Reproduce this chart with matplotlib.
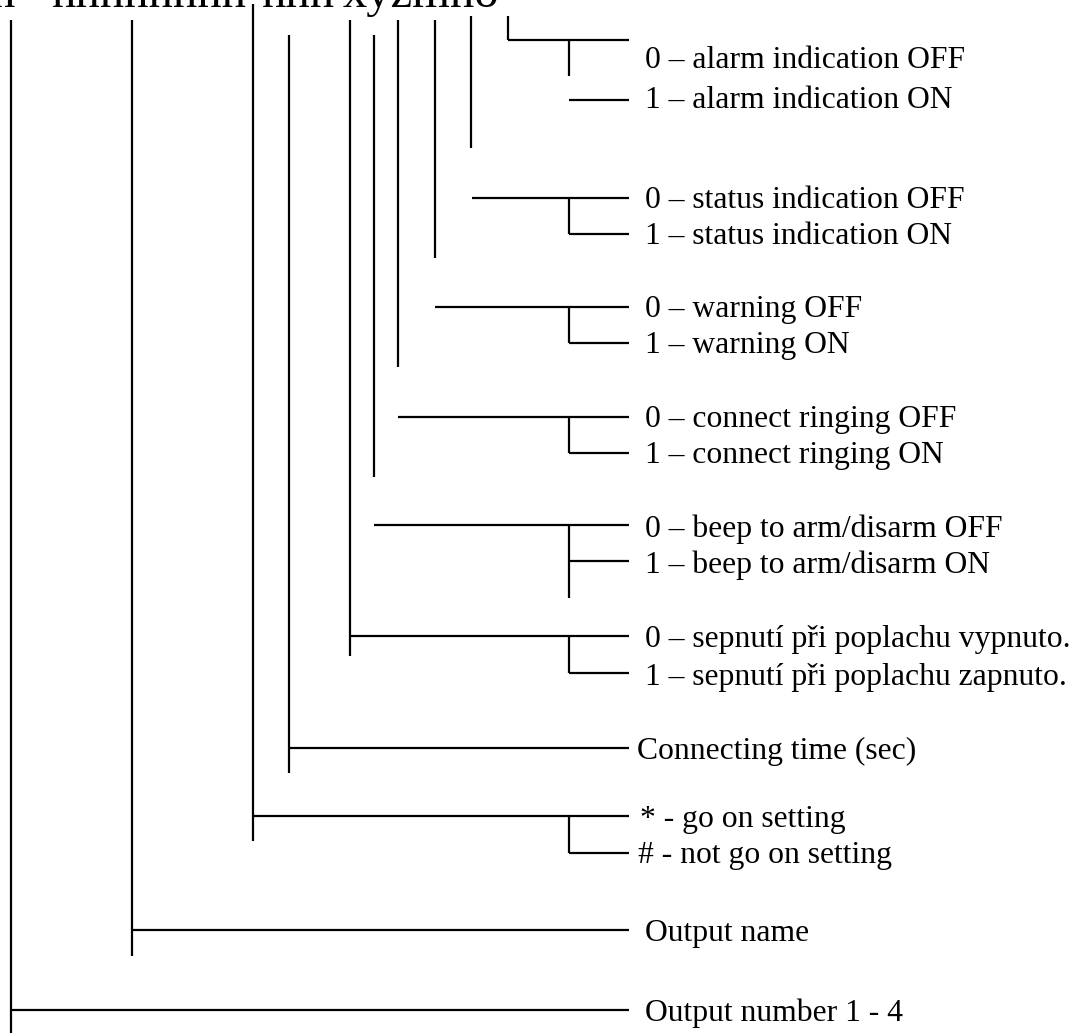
import matplotlib
matplotlib.use("Agg")
import matplotlib.pyplot as plt

# ---- diagram data (pixel coordinates of the reference, y downward) ----
header_words = ["n", "nnnnnnnn", "nnn", "xyzmno"]
header_x = [-9, 52, 262, 343]
header_baseline = 7

stem_x = [11, 132, 253, 289, 350, 374, 398, 435, 471, 508]
stem_top = [20, 20, 4, 35, 20, 35, 20, 20, 16, 16]
stem_bottom = [1033, 956, 841, 773, 656, 477, 367, 258, 148, 40]

hline_y = [40, 100, 198, 234, 307, 343, 417, 453, 525, 561, 636, 673, 748, 816, 853, 930, 1010]
hline_x0 = [508, 569, 472, 569, 435, 569, 398, 569, 374, 569, 350, 569, 289, 253, 569, 132, 11]
hline_x1 = 629

branch_x = 569
branch_top = [40, 198, 307, 417, 525, 636, 816]
branch_bottom = [76, 234, 343, 453, 598, 673, 853]

labels = [
    "0 – alarm indication OFF",
    "1 – alarm indication ON",
    "0 – status indication OFF",
    "1 – status indication ON",
    "0 – warning OFF",
    "1 – warning ON",
    "0 – connect ringing OFF",
    "1 – connect ringing ON",
    "0 – beep to arm/disarm OFF",
    "1 – beep to arm/disarm ON",
    "0 – sepnutí při poplachu vypnuto.",
    "1 – sepnutí při poplachu zapnuto.",
    "Connecting time (sec)",
    "* - go on setting",
    "# - not go on setting",
    "Output name",
    "Output number 1 - 4",
]
label_y = [57, 98, 197, 234, 307, 343, 417, 453, 527, 563, 637, 675, 748, 816, 853, 930, 1010]
label_x = [645, 645, 645, 645, 645, 645, 645, 645, 645, 645, 645, 645, 637, 640, 638, 645, 645]

W, H = 1079, 1033
fig = plt.figure(figsize=(W / 100, H / 100), dpi=100)
ax = fig.add_axes([0, 0, 1, 1])
ax.set_xlim(0, W)
ax.set_ylim(H, 0)
ax.axis("off")

lw = 1.6
col = "black"
font = "Liberation Serif"

for x, t, b in zip(stem_x, stem_top, stem_bottom):
    ax.plot([x, x], [t, b], color=col, lw=lw, solid_capstyle="butt")

for y, x0 in zip(hline_y, hline_x0):
    ax.plot([x0, hline_x1], [y, y], color=col, lw=lw, solid_capstyle="butt")

for t, b in zip(branch_top, branch_bottom):
    ax.plot([branch_x, branch_x], [t, b], color=col, lw=lw, solid_capstyle="butt")

cap_half = 10.5
for txt, x, y in zip(labels, label_x, label_y):
    ax.text(x, y + cap_half, txt, fontsize=22.8, family=font,
            ha="left", va="baseline", color=col)

for w, x in zip(header_words, header_x):
    ax.text(x, header_baseline, w, fontsize=35, family=font,
            ha="left", va="baseline", color=col)

fig.savefig("out.png", dpi=100)
